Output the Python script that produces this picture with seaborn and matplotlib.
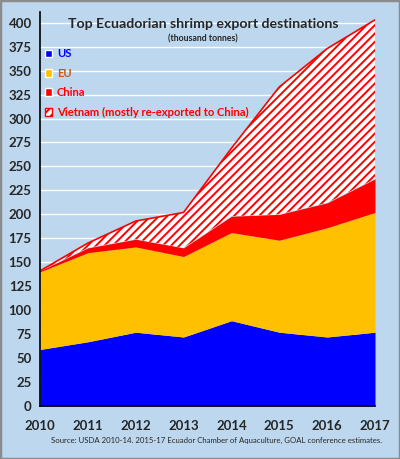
import numpy as np
import pandas as pd
import seaborn as sns
import matplotlib.pyplot as plt
from matplotlib.patches import Patch

years = [2010, 2011, 2012, 2013, 2014, 2015, 2016, 2017]
us = [59, 67, 77, 72, 89, 77, 72, 77]
eu = [81, 93, 89, 84, 92, 96, 114, 125]
china = [1, 5, 8, 9, 17, 27, 26, 35]
vietnam = [0, 5, 19, 37, 71, 133, 161, 166]

bg = "#BDD7EE"
sns.set_style("whitegrid", {"axes.facecolor": bg, "grid.color": "white"})
plt.rcParams['font.family'] = ['Lato', 'DejaVu Sans']
plt.rcParams['hatch.linewidth'] = 1.4
plt.rcParams['hatch.color'] = 'red'

df = pd.DataFrame({"year": years, "US": us, "EU": eu, "China": china, "Vietnam": vietnam})

fig = plt.figure(figsize=(4.0, 4.59), dpi=100, facecolor=bg)
ax = fig.add_axes([0.1, 0.1155, 0.8375, 0.858])

cols = ["#0000FF", "#FFC000", "#FF0000"]
polys = ax.stackplot(df["year"], df["US"], df["EU"], df["China"], df["Vietnam"],
                     colors=cols + ["white"], linewidth=0)
polys[3].set_hatch("////")
polys[3].set_edgecolor("red")
top = df[["US", "EU", "China", "Vietnam"]].sum(axis=1)
ax.plot(df["year"], top, color="red", lw=1.2)

ax.set_xlim(2010, 2017)
ax.set_ylim(0, 411)
ax.set_yticks(range(0, 401, 25))
ax.set_xticks(years)
ax.grid(axis="x", visible=False)
ax.grid(axis="y", color="white", lw=1)
ax.set_axisbelow(True)
for s in ["top", "right"]:
    ax.spines[s].set_visible(False)
for s in ["left", "bottom"]:
    ax.spines[s].set_color("black")
    ax.spines[s].set_linewidth(1.2)
ax.tick_params(axis="x", direction="in", length=5, width=1, color="black", pad=10, labelsize=9.5)
ax.tick_params(axis="y", length=0, pad=6, labelsize=9.5)
for lab in ax.get_xticklabels() + ax.get_yticklabels():
    lab.set_fontweight("bold")

fig.text(0.508, 0.948, "Top Ecuadorian shrimp export destinations", ha="center", va="center",
         fontsize=10.2, fontweight="bold")
fig.text(0.508, 0.915, "(thousand tonnes)", ha="center", va="center", fontsize=6.3, fontweight="bold")

handles = [Patch(facecolor=cols[0]), Patch(facecolor=cols[1]), Patch(facecolor=cols[2]),
           Patch(facecolor="white", edgecolor="red", hatch="////")]
labels = ["US", "EU", "China", "Vietnam (mostly re-exported to China)"]
leg = ax.legend(handles, labels, loc="upper left", bbox_to_anchor=(-0.01, 0.928), frameon=False,
                handlelength=0.7, handleheight=0.7, handletextpad=0.4, labelspacing=0.75,
                prop={"size": 8.1, "weight": "bold"}, borderaxespad=0.3)
for t, c in zip(leg.get_texts(), ["#0000FF", "#C55A11", "#FF0000", "#FF0000"]):
    t.set_color(c)

fig.text(0.955, 0.04, "Source: USDA 2010-14. 2015-17 Ecuador Chamber of Aquaculture, GOAL conference estimates.",
         ha="right", va="center", fontsize=5.6)

fig.patches.append(plt.Rectangle((0, 0), 1, 1, transform=fig.transFigure, fill=False,
                                 edgecolor="#8C8C8C", lw=2.5))
fig.savefig("out.png", dpi=100, facecolor=bg)
